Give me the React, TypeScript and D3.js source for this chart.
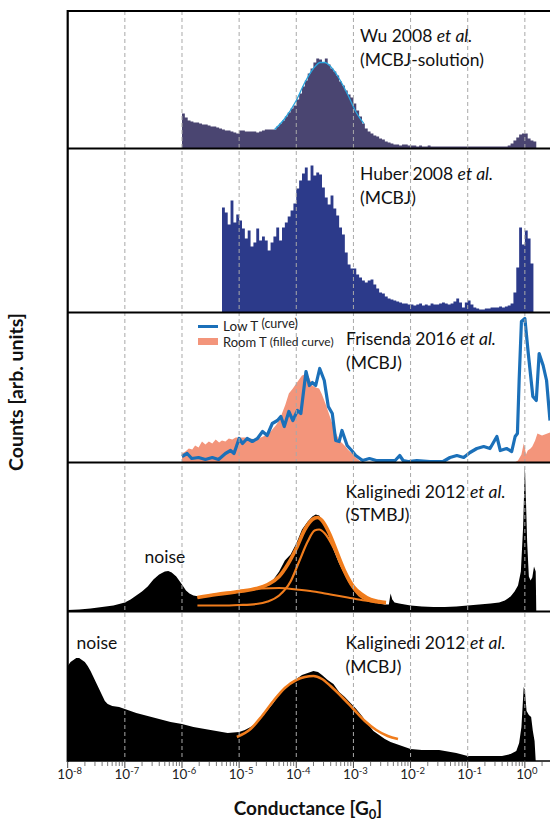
import React from "react";
import * as d3 from "d3";

// ---------- DATA (log10 of conductance in G0, counts in arb. units) ----------
const BIN_STEP = 0.05;

const wuStart = -6.0;
const wuCounts = [
  35, 31, 28, 27, 26, 26, 25, 24, 24, 23,
  22, 22, 21, 20, 19, 18, 18, 17, 16, 15,
  18, 18, 17, 17, 17, 17, 16, 17, 18, 19,
  19, 19, 19, 22, 25, 28, 32, 36, 40, 43,
  49, 55, 62, 68, 75, 80, 86, 90, 89, 86,
  90, 84, 80, 77, 73, 67, 63, 58, 54, 51,
  45, 38, 32, 25, 20, 17, 15, 13, 12, 10,
  9, 7, 6, 5, 4, 4, 3, 4, 4, 3,
  3, 3, 2, 3, 2, 2, 3, 2, 2, 2,
  2, 2, 2, 2, 2, 2, 2, 2, 2, 2,
  2, 2, 2, 2, 2, 2, 2, 2, 2, 2,
  2, 2, 2, 2, 3, 5, 8, 11, 14, 15,
  15, 10, 8, 7,
];
const wuFit: [number, number][] = [
  [-4.38, 19], [-4.2, 30], [-4.0, 48], [-3.85, 66], [-3.7, 80], [-3.58, 86],
  [-3.5, 86], [-3.4, 82], [-3.25, 70], [-3.1, 54], [-2.95, 36], [-2.82, 25],
];

const huberStart = -5.3;
const huberCounts = [
  105, 100, 88, 112, 90, 98, 92, 84, 74, 82,
  66, 70, 84, 72, 76, 72, 62, 70, 76, 85,
  72, 85, 90, 96, 102, 109, 124, 132, 139, 145,
  132, 147, 137, 140, 138, 125, 115, 108, 117, 104,
  97, 85, 78, 60, 48, 44, 44, 38, 35, 32,
  30, 32, 33, 28, 24, 20, 19, 16, 14, 13,
  12, 11, 10, 9, 9, 8, 8, 7, 8, 9,
  7, 8, 7, 9, 8, 8, 9, 10, 9, 8,
  9, 11, 14, 10, 5, 10, 12, 8, 5, 4,
  3, 3, 4, 4, 5, 5, 5, 6, 5, 6,
  7, 9, 20, 45, 85, 68, 82, 74, 49,
];

const frisendaRoomT: [number, number][] = [
  [-6.0, 0], [-6.0, 9], [-5.94, 11], [-5.88, 14], [-5.82, 13], [-5.77, 17], [-5.71, 15],
  [-5.65, 21], [-5.59, 18], [-5.53, 21], [-5.47, 19], [-5.41, 23], [-5.35, 20], [-5.3, 22],
  [-5.24, 21], [-5.18, 24], [-5.12, 23], [-5.06, 25], [-5.0, 25], [-4.89, 25], [-4.8, 24],
  [-4.71, 23], [-4.62, 25], [-4.54, 27], [-4.45, 31], [-4.36, 37], [-4.3, 42], [-4.25, 49],
  [-4.19, 58], [-4.13, 69], [-4.06, 74], [-4.0, 79], [-3.95, 83], [-3.9, 87], [-3.81, 89],
  [-3.76, 83], [-3.72, 77], [-3.66, 75], [-3.6, 74], [-3.55, 68], [-3.49, 59], [-3.43, 49],
  [-3.37, 39], [-3.31, 30], [-3.25, 22], [-3.19, 19], [-3.14, 16], [-3.08, 12], [-3.02, 9],
  [-2.96, 5], [-2.9, 2], [-2.85, 0], [-0.18, 0], [-0.12, 2], [-0.06, 8], [-0.02, 19],
  [0.0, 15], [0.02, 8], [0.05, 12], [0.1, 14], [0.13, 16], [0.18, 22], [0.22, 29],
  [0.3, 27], [0.44, 30],
];
const frisendaLowT: [number, number][] = [
  [-6.0, 6], [-5.91, 9], [-5.83, 4], [-5.71, 5], [-5.59, 3], [-5.47, 5], [-5.36, 3],
  [-5.24, 9], [-5.15, 12], [-5.09, 9], [-5.0, 24], [-4.94, 19], [-4.86, 24], [-4.77, 21],
  [-4.68, 24], [-4.59, 31], [-4.51, 27], [-4.42, 39], [-4.33, 42], [-4.27, 46], [-4.21, 36],
  [-4.13, 51], [-4.06, 42], [-3.98, 52], [-3.92, 49], [-3.83, 91], [-3.77, 77], [-3.72, 80],
  [-3.66, 77], [-3.59, 94], [-3.51, 82], [-3.44, 56], [-3.37, 49], [-3.31, 22], [-3.25, 21],
  [-3.2, 32], [-3.11, 17], [-3.03, 12], [-2.96, 7], [-2.84, 2], [-2.72, 4], [-2.6, 2],
  [-2.54, 2], [-2.42, 2], [-2.27, 2], [-2.19, 7], [-2.13, 2], [-2.04, 1], [-1.89, 2],
  [-1.66, 1], [-1.43, 1], [-1.31, 5], [-1.19, 7], [-1.07, 5], [-0.96, 10], [-0.84, 14],
  [-0.72, 16], [-0.61, 14], [-0.49, 26], [-0.43, 12], [-0.32, 14], [-0.23, 11], [-0.17, 26],
  [-0.13, 29], [-0.1, 82], [-0.06, 141], [0.0, 144], [0.06, 109], [0.14, 66], [0.2, 62],
  [0.25, 109], [0.32, 97], [0.38, 82], [0.44, 42],
];

const stmbjCounts: [number, number][] = [
  [-8.0, 1.5], [-7.8, 2], [-7.6, 3], [-7.4, 4.5], [-7.2, 6], [-7.0, 9], [-6.9, 12], [-6.8, 16],
  [-6.7, 20], [-6.6, 25], [-6.5, 32], [-6.4, 37], [-6.3, 40], [-6.24, 40.5], [-6.18, 39],
  [-6.1, 35], [-6.0, 27], [-5.93, 21], [-5.87, 18], [-5.8, 16], [-5.7, 15], [-5.5, 16],
  [-5.3, 17], [-5.1, 18], [-5.0, 19], [-4.8, 21], [-4.6, 24], [-4.5, 27], [-4.4, 32],
  [-4.3, 40], [-4.2, 51], [-4.1, 57], [-4.0, 68], [-3.9, 82], [-3.8, 90], [-3.72, 95],
  [-3.66, 97], [-3.6, 96], [-3.54, 91], [-3.45, 79], [-3.35, 62], [-3.25, 48], [-3.15, 37],
  [-3.05, 27], [-2.95, 20], [-2.85, 16], [-2.75, 12], [-2.65, 10], [-2.55, 8], [-2.45, 7],
  [-2.38, 7], [-2.35, 18], [-2.32, 12], [-2.28, 9], [-2.2, 8], [-2.1, 7], [-2.0, 6],
  [-1.8, 5], [-1.6, 4.5], [-1.4, 4.5], [-1.2, 5], [-1.0, 6], [-0.8, 7], [-0.6, 8],
  [-0.45, 9], [-0.35, 11], [-0.25, 15], [-0.18, 20], [-0.12, 26], [-0.07, 40], [-0.03, 85],
  [0.0, 146], [0.02, 110], [0.04, 70], [0.07, 35], [0.1, 31], [0.13, 34], [0.16, 45],
  [0.19, 40], [0.2, 0],
];
const stmbjFitTotal: [number, number][] = [
  [-5.73, 14], [-5.4, 17], [-5.0, 20], [-4.7, 23], [-4.5, 27], [-4.3, 35], [-4.15, 47],
  [-4.0, 63], [-3.85, 82], [-3.72, 92], [-3.63, 94], [-3.55, 91], [-3.42, 78], [-3.28, 58],
  [-3.15, 40], [-3.0, 25], [-2.85, 17], [-2.7, 12], [-2.55, 10], [-2.43, 9],
];
const stmbjFitBroad: [number, number][] = [
  [-5.73, 14], [-5.4, 17], [-5.0, 20], [-4.6, 23], [-4.3, 23.5], [-4.0, 22], [-3.7, 20],
  [-3.4, 17], [-3.1, 14], [-2.8, 11], [-2.43, 9],
];
const stmbjFitNarrow: [number, number][] = [
  [-5.73, 6], [-5.3, 6], [-5.0, 6.5], [-4.7, 7.5], [-4.5, 10], [-4.3, 16], [-4.1, 30],
  [-3.95, 50], [-3.8, 70], [-3.68, 81], [-3.6, 82], [-3.5, 78], [-3.35, 64], [-3.2, 44],
  [-3.05, 27], [-2.9, 16], [-2.75, 11], [-2.6, 9], [-2.43, 8],
];

const mcbjCounts: [number, number][] = [
  [-8.0, 95], [-7.95, 99], [-7.9, 101], [-7.85, 103], [-7.8, 103], [-7.75, 101], [-7.7, 99],
  [-7.65, 95], [-7.6, 90], [-7.55, 84], [-7.5, 78], [-7.45, 72], [-7.4, 66], [-7.35, 60],
  [-7.3, 57], [-7.22, 55], [-7.1, 54], [-7.0, 52], [-6.9, 50], [-6.8, 48], [-6.6, 45],
  [-6.4, 42], [-6.2, 39], [-6.0, 37], [-5.8, 34], [-5.6, 32], [-5.4, 30], [-5.2, 28],
  [-5.0, 29], [-4.9, 31], [-4.8, 34], [-4.7, 38], [-4.6, 44], [-4.5, 51], [-4.4, 58],
  [-4.3, 67], [-4.2, 73], [-4.1, 78], [-4.0, 82], [-3.9, 86], [-3.8, 88], [-3.7, 90],
  [-3.62, 89], [-3.55, 86], [-3.45, 81], [-3.35, 77], [-3.25, 69], [-3.15, 64], [-3.05, 58],
  [-2.95, 52], [-2.85, 45], [-2.75, 37], [-2.65, 30], [-2.55, 26], [-2.45, 22], [-2.35, 19],
  [-2.2, 16], [-2.1, 14], [-2.0, 12], [-1.8, 11], [-1.6, 11], [-1.5, 11], [-1.4, 10],
  [-1.2, 8], [-1.0, 5], [-0.8, 5], [-0.6, 5], [-0.4, 5], [-0.25, 7], [-0.15, 10],
  [-0.1, 18], [-0.06, 34], [-0.02, 74], [0.0, 71], [0.03, 50], [0.07, 46], [0.11, 44],
  [0.14, 30], [0.17, 20], [0.19, 0],
];
const mcbjFit: [number, number][] = [
  [-5.04, 24], [-4.8, 32], [-4.6, 45], [-4.4, 60], [-4.2, 73], [-4.0, 81], [-3.85, 84],
  [-3.7, 85], [-3.55, 82], [-3.4, 75], [-3.2, 64], [-3.0, 52], [-2.8, 40], [-2.6, 31],
  [-2.4, 25], [-2.22, 22],
];

const decadeExponents = [-8, -7, -6, -5, -4, -3, -2, -1, 0];
const decadeLabels = ["-8", "-7", "-6", "-5", "-4", "-3", "-2", "-1", "0"];

// ---------- LAYOUT ----------
const W = 550;
const H = 821;
const LEFT = 67.7;
const FONT = "Lato, 'Open Sans', 'DejaVu Sans', sans-serif";
const panels = [
  { top: 11, bottom: 148.5 },
  { top: 148.5, bottom: 312.5 },
  { top: 312.5, bottom: 462.5 },
  { top: 462.5, bottom: 611.5 },
  { top: 611.5, bottom: 761 },
];

const x = d3.scaleLog().domain([1e-8, Math.pow(10, 0.44)]).range([LEFT, W]);
const xl = (l: number) => x(Math.pow(10, l));

function yScale(i: number) {
  const p = panels[i];
  return d3.scaleLinear().domain([0, p.bottom - p.top]).range([p.bottom, p.top]);
}

function stepArea(start: number, counts: number[], i: number) {
  const y = yScale(i);
  const pts: [number, number][] = counts.map((c, k) => [start + k * BIN_STEP, c]);
  pts.push([start + counts.length * BIN_STEP, counts[counts.length - 1]]);
  return d3
    .area<[number, number]>()
    .x((d) => xl(d[0]))
    .y0(panels[i].bottom)
    .y1((d) => y(d[1]))
    .curve(d3.curveStepAfter)(pts) as string;
}

function pairArea(pts: [number, number][], i: number) {
  const y = yScale(i);
  return d3
    .area<[number, number]>()
    .x((d) => xl(d[0]))
    .y0(panels[i].bottom)
    .y1((d) => y(d[1]))
    .curve(d3.curveLinear)(pts) as string;
}

function pairLine(pts: [number, number][], i: number, smooth: boolean) {
  const y = yScale(i);
  return d3
    .line<[number, number]>()
    .x((d) => xl(d[0]))
    .y((d) => y(d[1]))
    .curve(smooth ? d3.curveMonotoneX : d3.curveLinear)(pts) as string;
}

const minorTicks: number[] = [];
for (let e = -8; e <= 0; e++) {
  for (let m = 2; m <= 9; m++) {
    const v = m * Math.pow(10, e);
    if (v <= Math.pow(10, 0.44)) minorTicks.push(v);
  }
}

const ORANGE = "#f07c1c";

export default function App() {
  const gridTop = panels[0].top;
  const gridBottom = panels[4].bottom;
  return (
    <svg
      width={W}
      height={H}
      style={{ position: "absolute", left: 0, top: 0, background: "#fff" }}
      fontFamily={FONT}
    >
      <defs>
        {panels.map((p, i) => (
          <clipPath id={`clip${i}`} key={i}>
            <rect x={LEFT} y={p.top} width={W - LEFT} height={p.bottom - p.top} />
          </clipPath>
        ))}
      </defs>

      {/* Panel 1: Wu 2008 */}
      <g clipPath="url(#clip0)">
        <path d={stepArea(wuStart, wuCounts, 0)} fill="#4a4571" />
        <path d={pairLine(wuFit, 0, true)} fill="none" stroke="#2aa4dc" strokeWidth={1.3} />
      </g>

      {/* Panel 2: Huber 2008 */}
      <g clipPath="url(#clip1)">
        <path d={stepArea(huberStart, huberCounts, 1)} fill="#2c3a8a" />
      </g>

      {/* Panel 3: Frisenda 2016 */}
      <g clipPath="url(#clip2)">
        <path d={pairArea(frisendaRoomT, 2)} fill="#f3957b" />
        <path
          d={pairLine(frisendaLowT, 2, false)}
          fill="none"
          stroke="#1b70b9"
          strokeWidth={3.2}
          strokeLinejoin="round"
        />
      </g>

      {/* Panel 4: Kaliginedi STMBJ */}
      <g clipPath="url(#clip3)">
        <path d={pairArea(stmbjCounts, 3)} fill="#000" />
        <path d={pairLine(stmbjFitBroad, 3, true)} fill="none" stroke={ORANGE} strokeWidth={2} />
        <path d={pairLine(stmbjFitNarrow, 3, true)} fill="none" stroke={ORANGE} strokeWidth={2.2} />
        <path d={pairLine(stmbjFitTotal, 3, true)} fill="none" stroke={ORANGE} strokeWidth={3.6} />
      </g>

      {/* Panel 5: Kaliginedi MCBJ */}
      <g clipPath="url(#clip4)">
        <path d={pairArea(mcbjCounts, 4)} fill="#000" />
        <path d={pairLine(mcbjFit, 4, true)} fill="none" stroke={ORANGE} strokeWidth={2.6} />
      </g>

      {/* dashed decade gridlines */}
      {decadeExponents.slice(1).map((e) => (
        <line
          key={e}
          x1={x(Math.pow(10, e))}
          x2={x(Math.pow(10, e))}
          y1={gridTop}
          y2={gridBottom}
          stroke="#a9a9a9"
          strokeWidth={1}
          strokeDasharray="4 3"
        />
      ))}

      {/* frame */}
      {panels.map((p, i) => (
        <line key={`t${i}`} x1={LEFT} x2={W} y1={p.top} y2={p.top} stroke="#000" strokeWidth={2.2} />
      ))}
      <line x1={LEFT} x2={W} y1={gridBottom} y2={gridBottom} stroke="#000" strokeWidth={1.6} />
      <line x1={LEFT} x2={LEFT} y1={gridTop - 1} y2={gridBottom + 1} stroke="#000" strokeWidth={2.2} />

      {/* x ticks */}
      {decadeExponents.map((e) => (
        <line
          key={`M${e}`}
          x1={x(Math.pow(10, e))}
          x2={x(Math.pow(10, e))}
          y1={gridBottom}
          y2={gridBottom + 7}
          stroke="#444"
          strokeWidth={1}
        />
      ))}
      {minorTicks.map((v, k) => (
        <line key={`m${k}`} x1={x(v)} x2={x(v)} y1={gridBottom + 1} y2={gridBottom + 5} stroke="#555" strokeWidth={0.8} />
      ))}
      {decadeExponents.map((e, k) => (
        <text key={`L${e}`} x={x(Math.pow(10, e)) + 2} y={779} textAnchor="middle" fontSize={13.5} fill="#222">
          10
          <tspan fontSize={9.5} dy={-5.5}>
            {decadeLabels[k]}
          </tspan>
        </text>
      ))}

      {/* axis titles */}
      <text x={308} y={815} textAnchor="middle" fontSize={19} fontWeight="bold" fill="#111">
        Conductance [G
        <tspan fontSize={13} dy={4}>
          0
        </tspan>
        <tspan dy={-4}>]</tspan>
      </text>
      <text
        transform="translate(23,392) rotate(-90)"
        textAnchor="middle"
        fontSize={19.5}
        fontWeight="bold"
        fill="#111"
      >
        Counts [arb. units]
      </text>

      {/* panel annotations */}
      <g fontSize={17.5} fill="#111">
        <text x={360} y={42}>
          Wu 2008 <tspan fontStyle="italic">et al.</tspan>
        </text>
        <text x={360} y={66}>(MCBJ-solution)</text>

        <text x={360} y={180}>
          Huber 2008 <tspan fontStyle="italic">et al.</tspan>
        </text>
        <text x={360} y={204}>(MCBJ)</text>

        <text x={346} y={345}>
          Frisenda 2016 <tspan fontStyle="italic">et al.</tspan>
        </text>
        <text x={346} y={369}>(MCBJ)</text>

        <text x={345.5} y={498}>
          Kaliginedi 2012 <tspan fontStyle="italic">et al.</tspan>
        </text>
        <text x={345.5} y={521}>(STMBJ)</text>
        <text x={144.5} y={563}>noise</text>

        <text x={345.5} y={649}>
          Kaliginedi 2012 <tspan fontStyle="italic">et al.</tspan>
        </text>
        <text x={345.5} y={673}>(MCBJ)</text>
        <text x={76.5} y={649}>noise</text>
      </g>

      {/* legend in panel 3 */}
      <line x1={198} x2={218} y1={326.5} y2={326.5} stroke="#1b70b9" strokeWidth={3} />
      <text x={223} y={331} fontSize={13.5} fill="#222">
        Low T{" "}
        <tspan fontSize={12.5} dy={-3}>
          (curve)
        </tspan>
      </text>
      <rect x={198} y={338} width={20} height={7} fill="#f3957b" />
      <text x={223} y={347} fontSize={13} fill="#222">
        Room T
        <tspan fontSize={12} dy={-1}>
          {" "}(filled curve)
        </tspan>
      </text>
    </svg>
  );
}
